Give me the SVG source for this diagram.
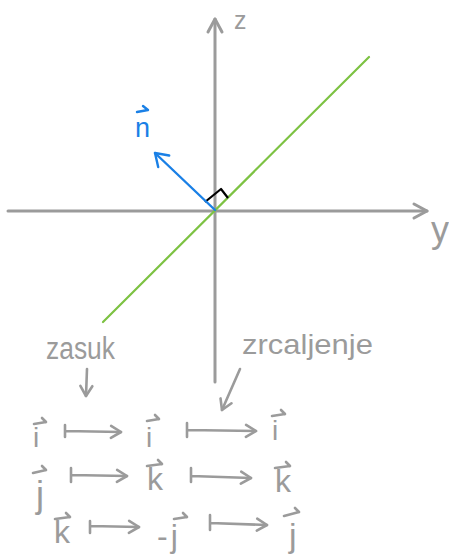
<svg xmlns="http://www.w3.org/2000/svg" width="449" height="559" viewBox="0 0 449 559">
<defs>
<style>
.ax{stroke:#9b9b9b;stroke-width:3;fill:none;stroke-linecap:round;stroke-linejoin:round}
.g{stroke:#9b9b9b;stroke-width:2.6;fill:none;stroke-linecap:round;stroke-linejoin:round}
.t{fill:#9b9b9b;font-family:"Liberation Sans",Arial,sans-serif}
.b{fill:#1a80e6;font-family:"Liberation Sans",Arial,sans-serif}
</style>
<marker id="ah" viewBox="-16 -10 18 20" refX="0" refY="0" markerWidth="18" markerHeight="20" markerUnits="userSpaceOnUse" orient="auto" overflow="visible">
<path d="M-13,-7 L0,0 L-13,7" fill="none" stroke="#9b9b9b" stroke-width="3" stroke-linecap="round" stroke-linejoin="round"/>
</marker>
<marker id="mh" viewBox="-12 -8 14 16" refX="0" refY="0" markerWidth="14" markerHeight="16" markerUnits="userSpaceOnUse" orient="auto" overflow="visible">
<path d="M-10,-6 L0,0 L-10,6" fill="none" stroke="#9b9b9b" stroke-width="2.6" stroke-linecap="round" stroke-linejoin="round"/>
</marker>
<marker id="bh" viewBox="-14 -10 16 20" refX="0" refY="0" markerWidth="16" markerHeight="20" markerUnits="userSpaceOnUse" orient="auto" overflow="visible">
<path d="M-12,-8 L0,0 L-12,8" fill="none" stroke="#1a80e6" stroke-width="2.4" stroke-linecap="round" stroke-linejoin="round"/>
</marker>
</defs>
<rect width="449" height="559" fill="#ffffff"/>

<g id="axes">
<line class="ax" x1="215" y1="382" x2="215" y2="19" marker-end="url(#ah)"/>
<line class="ax" x1="8" y1="211" x2="427" y2="211" marker-end="url(#ah)"/>
<text class="t" x="234" y="29" font-size="25">z</text>
<text class="t" x="431" y="242" font-size="36">y</text>
</g>

<g id="plane">
<line x1="103" y1="322" x2="369" y2="57" stroke="#7dc243" stroke-width="2.2" stroke-linecap="round"/>
<polyline points="205,202 221,189 228,198" fill="none" stroke="#000000" stroke-width="2.2" stroke-linejoin="round"/>
</g>

<g id="normal">
<line x1="215" y1="210" x2="155" y2="153" stroke="#1a80e6" stroke-width="2.4" stroke-linecap="round" marker-end="url(#bh)"/>
<text class="b" x="135" y="137" font-size="27">n</text>
<path d="M137 112 L148 110 M143 106 L148 110" fill="none" stroke="#1a80e6" stroke-width="2.4" stroke-linecap="round" stroke-linejoin="round"/>
</g>

<g id="label-zasuk">
<text class="t" x="46" y="359" font-size="31" textLength="69" lengthAdjust="spacingAndGlyphs">zasuk</text>
</g>
<g id="label-zrcaljenje">
<text class="t" x="242" y="354" font-size="28" textLength="131" lengthAdjust="spacingAndGlyphs">zrcaljenje</text>
</g>

<g id="connectors">
<line class="g" x1="87" y1="369" x2="86" y2="396" marker-end="url(#mh)"/>
<line class="g" x1="240" y1="369" x2="222" y2="410" marker-end="url(#mh)"/>
<path class="g" d="M65 425 L65 437 M65 431 L121 432" marker-end="url(#mh)"/>
<path class="g" d="M187 423 L187 437 M187 430 L256 431" marker-end="url(#mh)"/>
<path class="g" d="M71 468 L71 482 M71 475 L127 476" marker-end="url(#mh)"/>
<path class="g" d="M191 468 L191 482 M191 476 L251 478" marker-end="url(#mh)"/>
<path class="g" d="M90 521 L90 533 M90 526 L139 527" marker-end="url(#mh)"/>
<path class="g" d="M210 515 L210 530 M210 523 L267 525" marker-end="url(#mh)"/>
</g>

<g id="row1">
<text class="t" x="33" y="447" font-size="28">i</text>
<path class="g" d="M34 424 L46 422 M42 418 L46 422"/>
<text class="t" x="146" y="447" font-size="28">i</text>
<path class="g" d="M147 421 L159 419 M155 415 L159 419"/>
<text class="t" x="272" y="440" font-size="28">i</text>
<path class="g" d="M272 416 L285 414 M281 410 L285 414"/>
</g>

<g id="row2">
<text class="t" x="36" y="507" font-size="36">j</text>
<path class="g" d="M33 473 L46 470 M42 466 L46 470"/>
<text class="t" x="147" y="490" font-size="32">k</text>
<path class="g" d="M147 466 L162 464 M158 460 L162 464"/>
<text class="t" x="275" y="492" font-size="32">k</text>
<path class="g" d="M275 468 L290 466 M286 462 L290 466"/>
</g>

<g id="row3">
<text class="t" x="54" y="543" font-size="32">k</text>
<path class="g" d="M55 519 L70 517 M66 513 L70 517"/>
<text class="t" x="157" y="547" font-size="32">-<tspan dx="3">j</tspan></text>
<path class="g" d="M174 519 L187 517 M183 513 L187 517"/>
<text class="t" x="289" y="547" font-size="34">j</text>
<path class="g" d="M284 516 L299 512 M295 508 L299 512"/>
</g>
</svg>
